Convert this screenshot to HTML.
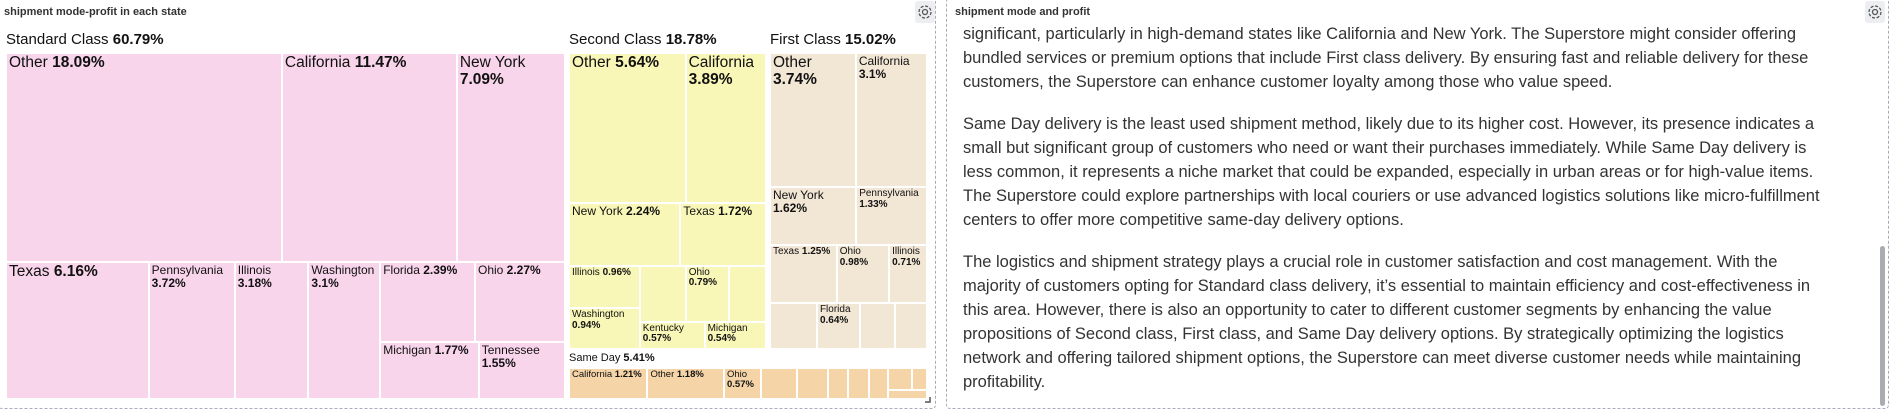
<!DOCTYPE html>
<html><head><meta charset="utf-8"><style>
html,body{margin:0;padding:0;background:#fff;width:1890px;height:415px;overflow:hidden;font-family:"Liberation Sans",Arial,sans-serif;}
.abs{position:absolute;}
.hdr{position:absolute;font-size:11px;font-weight:bold;color:#333;top:6px;}
.gear{position:absolute;width:20px;height:22px;background:#eceef1;border-radius:3px;}
.cell{position:absolute;box-sizing:border-box;overflow:hidden;color:#111;line-height:1.08;padding:1px 2px;}
.glab{position:absolute;color:#111;white-space:nowrap;}
.tx{position:absolute;left:963px;font-size:16.5px;color:#333;white-space:nowrap;}
</style></head><body>
<div class="abs" style="left:-2px;top:-2px;width:938px;height:411px;border:1px dashed #aab;border-top:none;border-left:none;border-radius:4px;box-sizing:border-box"></div>
<div class="hdr" style="left:4px">shipment mode-profit in each state</div>
<div class="gear" style="left:915px;top:1px"><svg width="20" height="22" viewBox="0 0 20 22"><circle cx="10" cy="11" r="2.5" fill="none" stroke="#555" stroke-width="1.3"/><circle cx="10" cy="11" r="6" fill="none" stroke="#555" stroke-width="1.3" stroke-dasharray="3 1.7"/></svg></div>
<svg class="abs" style="left:924px;top:396px" width="8" height="8"><path d="M6 1V6H1" stroke="#555" fill="none" stroke-width="1.5"/></svg>
<div id="tm"></div>

<div class="abs" style="left:946px;top:-2px;width:943px;height:411px;border:1px dashed #aab;border-top:none;border-radius:4px;box-sizing:border-box"></div>
<div class="hdr" style="left:955px">shipment mode and profit</div>
<div class="gear" style="left:1865px;top:1px"><svg width="20" height="22" viewBox="0 0 20 22"><circle cx="10" cy="11" r="2.5" fill="none" stroke="#555" stroke-width="1.3"/><circle cx="10" cy="11" r="6" fill="none" stroke="#555" stroke-width="1.3" stroke-dasharray="3 1.7"/></svg></div>
<div class="abs" style="left:1880px;top:246px;width:5px;height:160px;background:#a9adb3;border-radius:3px"></div>
<div>
<div class="tx" style="top:25px">significant, particularly in high-demand states like California and New York. The Superstore might consider offering</div>
<div class="tx" style="top:49px">bundled services or premium options that include First class delivery. By ensuring fast and reliable delivery for these</div>
<div class="tx" style="top:73px">customers, the Superstore can enhance customer loyalty among those who value speed.</div>
<div class="tx" style="top:115px">Same Day delivery is the least used shipment method, likely due to its higher cost. However, its presence indicates a</div>
<div class="tx" style="top:139px">small but significant group of customers who need or want their purchases immediately. While Same Day delivery is</div>
<div class="tx" style="top:163px">less common, it represents a niche market that could be expanded, especially in urban areas or for high-value items.</div>
<div class="tx" style="top:187px">The Superstore could explore partnerships with local couriers or use advanced logistics solutions like micro-fulfillment</div>
<div class="tx" style="top:211px">centers to offer more competitive same-day delivery options.</div>
<div class="tx" style="top:253px">The logistics and shipment strategy plays a crucial role in customer satisfaction and cost management. With the</div>
<div class="tx" style="top:277px">majority of customers opting for Standard class delivery, it’s essential to maintain efficiency and cost-effectiveness in</div>
<div class="tx" style="top:301px">this area. However, there is also an opportunity to cater to different customer segments by enhancing the value</div>
<div class="tx" style="top:325px">propositions of Second class, First class, and Same Day delivery options. By strategically optimizing the logistics</div>
<div class="tx" style="top:349px">network and offering tailored shipment options, the Superstore can meet diverse customer needs while maintaining</div>
<div class="tx" style="top:373px">profitability.</div>
</div>
<script>
// data
const groupNames = ['Standard Class','Second Class','First Class','Same Day'];
const groupTotals = ['60.79%','18.78%','15.02%','5.41%'];
const stdNames = ['Other','California','New York','Texas','Pennsylvania','Illinois','Washington','Florida','Ohio','Michigan','Tennessee'];
const stdValues = [18.09,11.47,7.09,6.16,3.72,3.18,3.1,2.39,2.27,1.77,1.55];
const secNames = ['Other','California','New York','Texas','Illinois','Washington','','Ohio','','Kentucky','Michigan'];
const secValues = [5.64,3.89,2.24,1.72,0.96,0.94,0.83,0.79,0.66,0.57,0.54];
const firNames = ['Other','California','New York','Pennsylvania','Texas','Ohio','Illinois','','Florida','',''];
const firValues = [3.74,3.1,1.62,1.33,1.25,0.98,0.71,0.70,0.64,0.52,0.48];
const samNames = ['California','Other','Ohio','','','','','','','',''];
const samValues = [1.21,1.18,0.57,0.55,0.48,0.31,0.33,0.29,0.26,0.17,0.17];

// nesting structure (indices into arrays)
const stdTree = {d:'v',k:[{d:'h',k:[0,1,2]},{d:'h',k:[3,4,5,6,{d:'v',k:[{d:'h',k:[7,8]},{d:'h',k:[9,10]}]}]}]};
const secTree = {d:'v',k:[{d:'h',k:[0,1]},{d:'h',k:[2,3]},{d:'h',k:[{d:'v',k:[4,5]},{d:'v',k:[{d:'h',k:[6,7,8]},{d:'h',k:[9,10]}]}]}]};
const firTree = {d:'v',k:[{d:'h',k:[0,1]},{d:'h',k:[2,3]},{d:'h',k:[4,5,6]},{d:'h',k:[7,8,9,10]}]};
const samTree = {d:'h',k:[0,1,2,3,4,5,6,7,{d:'v',k:[{d:'h',k:[8,9]},10]}]};

const groups = [
 {tree:stdTree,names:stdNames,vals:stdValues,box:[6,53,565,399],color:'#f9d5ec',lab:[6,31,15]},
 {tree:secTree,names:secNames,vals:secValues,box:[569,53,766,349],color:'#f9f7b7',lab:[569,31,15]},
 {tree:firTree,names:firNames,vals:firValues,box:[770,53,927,349],color:'#f2e6d5',lab:[770,31,15]},
 {tree:samTree,names:samNames,vals:samValues,box:[569,368,927,399],color:'#f5d4a7',lab:[569,352,11]}
];
const root = document.getElementById('tm');
function sum(n,vals){return typeof n==='number'?vals[n]:n.k.reduce((s,c)=>s+sum(c,vals),0);}
function layout(n,x0,y0,x1,y1,g,gi){
  if(typeof n==='number'){draw(n,x0,y0,x1,y1,g,gi);return;}
  const tot=sum(n,g.vals);let p=n.d==='h'?x0:y0;
  n.k.forEach(c=>{const f=sum(c,g.vals)/tot;
    if(n.d==='h'){const w=(x1-x0)*f;layout(c,p,y0,p+w,y1,g,gi);p+=w;}
    else{const h=(y1-y0)*f;layout(c,x0,p,x1,p+h,g,gi);p+=h;}});
}
function draw(i,x0,y0,x1,y1,g,gi){
  const el=document.createElement('div');
  
  
  el.className='cell';
  const w=x1-x0-2,h=y1-y0-2,a=w*h;
  el.style.left=(x0+1)+'px';el.style.top=(y0+1)+'px';el.style.width=w+'px';el.style.height=h+'px';
  el.style.background=g.color;
  const fs=gi===3?9.5:(g.vals[i]>=3.73?15.5:(a>4000?12:10));
  el.style.fontSize=fs+'px';
  if(g.names[i]) el.innerHTML=g.names[i]+' <b>'+g.vals[i]+'%</b>';
  root.appendChild(el);
}
groups.forEach((g,gi)=>{
  const l=document.createElement('div');
  
  
  l.className='glab';
  l.style.left=g.lab[0]+'px';l.style.top=g.lab[1]+'px';l.style.fontSize=g.lab[2]+'px';
  l.innerHTML=groupNames[gi]+' <b>'+groupTotals[gi]+'</b>';
  root.appendChild(l);
  layout(g.tree,g.box[0],g.box[1],g.box[2],g.box[3],g,gi);
});
</script>
</body></html>
